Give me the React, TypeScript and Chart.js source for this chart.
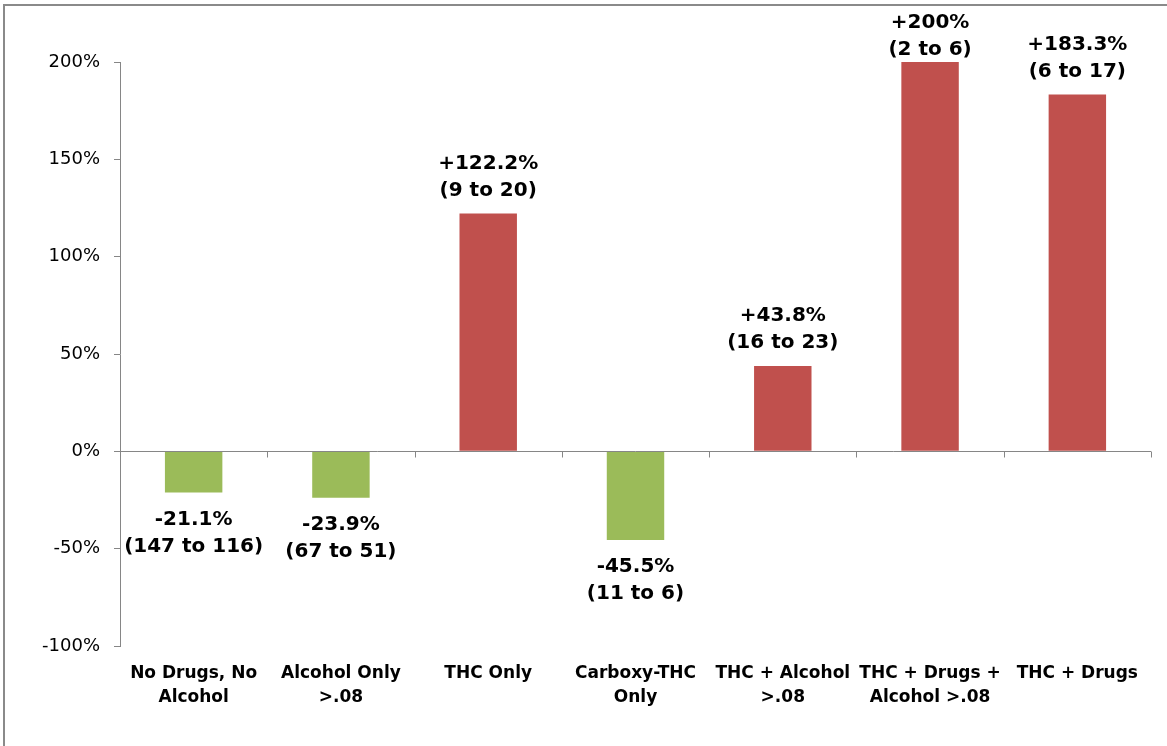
import React, { useEffect, useRef } from "react";
import { Chart, registerables } from "chart.js";

Chart.register(...registerables);

const categories: (string | string[])[] = [
  ["No Drugs, No", "Alcohol"],
  ["Alcohol Only", ">.08"],
  "THC Only",
  ["Carboxy-THC", "Only"],
  ["THC + Alcohol", ">.08"],
  ["THC + Drugs +", "Alcohol >.08"],
  "THC + Drugs",
];
const changePct: number[] = [-21.1, -23.9, 122.2, -45.5, 43.8, 200, 183.3];
const pctLabels: string[] = ["-21.1%", "-23.9%", "+122.2%", "-45.5%", "+43.8%", "+200%", "+183.3%"];
const countLabels: string[] = [
  "(147 to 116)",
  "(67 to 51)",
  "(9 to 20)",
  "(11 to 6)",
  "(16 to 23)",
  "(2 to 6)",
  "(6 to 17)",
];
const yTicks = { min: -100, max: 200, step: 50 };

const GREEN = "#9BBB59";
const RED = "#C0504D";
const AXIS = "#868686";
const FONT = "'DejaVu Sans', sans-serif";

const labelPlugin = {
  id: "zeroAndLabels",
  afterDatasetsDraw(chart: any) {
    const { ctx, chartArea, scales } = chart;
    const x = scales.x;
    const y = scales.y;
    const y0 = Math.round(y.getPixelForValue(0)) + 0.5;
    ctx.save();
    ctx.strokeStyle = AXIS;
    ctx.lineWidth = 1;
    ctx.beginPath();
    ctx.moveTo(chartArea.left, y0);
    ctx.lineTo(chartArea.right, y0);
    const spacing = x.getPixelForValue(1) - x.getPixelForValue(0);
    for (let i = 0; i <= categories.length; i++) {
      const bx = Math.round(x.getPixelForValue(0) - spacing / 2 + i * spacing) + 0.5;
      ctx.moveTo(bx, y0);
      ctx.lineTo(bx, y0 + 6);
    }
    ctx.stroke();

    const meta = chart.getDatasetMeta(0);
    ctx.fillStyle = "#000";
    ctx.font = `bold 20px ${FONT}`;
    ctx.textAlign = "center";
    ctx.textBaseline = "middle";
    const lh = 27;
    meta.data.forEach((bar: any, i: number) => {
      const v = changePct[i];
      const cx = bar.x;
      let top: number;
      if (v >= 0) {
        top = bar.y - 9.5 - 2 * lh;
        if (top < 9.5) top = 9.5;
      } else {
        top = bar.y + 13.5;
      }
      ctx.fillText(pctLabels[i], cx, top + lh / 2);
      ctx.fillText(countLabels[i], cx, top + lh * 1.5);
    });
    ctx.restore();
  },
};

export default function App() {
  const ref = useRef<HTMLCanvasElement | null>(null);
  useEffect(() => {
    if (!ref.current) return;
    const chart = new Chart(ref.current, {
      type: "bar",
      data: {
        labels: categories,
        datasets: [
          {
            data: changePct,
            backgroundColor: changePct.map((v) => (v >= 0 ? RED : GREEN)),
            borderWidth: 0,
            barPercentage: 0.39,
            categoryPercentage: 1,
          },
        ],
      },
      options: {
        animation: false,
        responsive: false,
        maintainAspectRatio: false,
        layout: { padding: { top: 62, right: 16, left: 0, bottom: 0 } },
        plugins: { legend: { display: false }, tooltip: { enabled: false } },
        scales: {
          x: {
            grid: { display: false },
            border: { display: false },
            ticks: {
              color: "#000",
              font: { family: FONT, size: 17, weight: "bold", lineHeight: 1.45 },
              padding: 7,
              maxRotation: 0,
              autoSkip: false,
            },
            afterFit: (s: any) => {
              s.height = 100;
            },
          },
          y: {
            min: yTicks.min,
            max: yTicks.max,
            grid: {
              display: true,
              drawOnChartArea: false,
              drawTicks: true,
              tickLength: 6,
              color: AXIS,
            },
            border: { display: true, color: AXIS },
            ticks: {
              stepSize: yTicks.step,
              color: "#000",
              font: { family: FONT, size: 18 },
              padding: 14,
              callback: (v: any) => `${v}%`,
            },
            afterFit: (s: any) => {
              s.width = 120;
            },
          },
        },
      },
      plugins: [labelPlugin],
    });
    return () => chart.destroy();
  }, []);

  return (
    <div style={{ position: "fixed", left: 0, top: 0, width: 1167, height: 746, background: "#fff", overflow: "hidden" }}>
      <div
        style={{
          position: "absolute",
          left: 3,
          top: 4,
          width: 1200,
          height: 800,
          borderTop: "2px solid #8a8a8a",
          borderLeft: "2px solid #8a8a8a",
        }}
      />
      <canvas ref={ref} width={1167} height={746} style={{ position: "absolute", left: 0, top: 0 }} />
    </div>
  );
}
